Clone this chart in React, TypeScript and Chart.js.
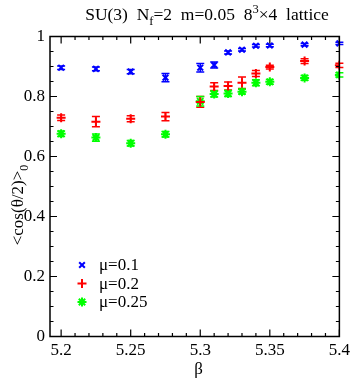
import React, { useEffect, useRef } from "react";
import { Chart, registerables } from "chart.js";
import { drawPoint } from "chart.js/helpers";

Chart.register(...registerables);

const beta = [5.2, 5.225, 5.25, 5.275, 5.3, 5.31, 5.32, 5.33, 5.34, 5.35, 5.375, 5.4];
const mu01 = [0.896, 0.892, 0.883, 0.863, 0.896, 0.905, 0.947, 0.956, 0.969, 0.970, 0.973, 0.977];
const mu01Err = [0.006, 0.006, 0.007, 0.014, 0.014, 0.01, 0.005, 0.004, 0.004, 0.004, 0.004, 0.004];
const mu02 = [0.729, 0.716, 0.726, 0.733, 0.782, 0.833, 0.835, 0.846, 0.877, 0.898, 0.918, 0.904];
const mu02Err = [0.009, 0.017, 0.01, 0.014, 0.018, 0.013, 0.013, 0.019, 0.01, 0.006, 0.008, 0.007];
const mu025 = [0.676, 0.663, 0.644, 0.674, 0.784, 0.808, 0.81, 0.816, 0.846, 0.849, 0.862, 0.872];
const mu025Err = [0.009, 0.012, 0.009, 0.009, 0.016, 0.01, 0.01, 0.008, 0.01, 0.008, 0.008, 0.007];

const seriesLabels = ["\u03bc=0.1", "\u03bc=0.2", "\u03bc=0.25"];
const seriesColors = ["#0000ff", "#ff0000", "#00ff00"];
const seriesStyles = ["crossRot", "cross", "star"];
const seriesValues = [mu01, mu02, mu025];
const seriesErrors = [mu01Err, mu02Err, mu025Err];

const xTicks = [5.2, 5.25, 5.3, 5.35, 5.4];
const yTicks = [0, 0.2, 0.4, 0.6, 0.8, 1];
const X_MIN = 5.192;
const X_MAX = 5.4;

const SERIF = "'Liberation Serif', 'Times New Roman', serif";

const errorBarPlugin = {
  id: "errorBars",
  beforeDatasetsDraw(chart: any) {
    const ctx = chart.ctx;
    const xs = chart.scales.x;
    const ys = chart.scales.y;
    ctx.save();
    chart.data.datasets.forEach((ds: any, i: number) => {
      const errs = seriesErrors[i];
      ctx.strokeStyle = ds.borderColor;
      ctx.lineWidth = 1.5;
      ds.data.forEach((p: any, j: number) => {
        const x = xs.getPixelForValue(p.x);
        const yt = ys.getPixelForValue(p.y + errs[j]);
        const yb = ys.getPixelForValue(p.y - errs[j]);
        const cw = 4;
        ctx.beginPath();
        ctx.moveTo(x, yt);
        ctx.lineTo(x, yb);
        ctx.moveTo(x - cw, yt);
        ctx.lineTo(x + cw, yt);
        ctx.moveTo(x - cw, yb);
        ctx.lineTo(x + cw, yb);
        ctx.stroke();
      });
    });
    ctx.restore();
  },
};

const framePlugin = {
  id: "frame",
  afterDraw(chart: any) {
    const ctx = chart.ctx;
    const { left, right, top, bottom } = chart.chartArea;
    const xs = chart.scales.x;
    const ys = chart.scales.y;
    ctx.save();
    ctx.strokeStyle = "#000";
    ctx.lineWidth = 1.5;
    ctx.strokeRect(left, top, right - left, bottom - top);

    ctx.lineWidth = 1.2;
    ctx.beginPath();
    for (let k = 0; k <= 21; k++) {
      const v = 5.19 + k * 0.01;
      if (v < X_MIN - 1e-9 || v > X_MAX + 1e-9) continue;
      const major = Math.abs(Math.round(v * 20) - v * 20) < 1e-6;
      const len = major ? 7 : 3.5;
      const x = xs.getPixelForValue(v);
      ctx.moveTo(x, bottom);
      ctx.lineTo(x, bottom - len);
      ctx.moveTo(x, top);
      ctx.lineTo(x, top + len);
    }
    for (let k = 0; k <= 20; k++) {
      const v = k * 0.05;
      const major = k % 4 === 0;
      const len = major ? 7 : 3.5;
      const y = ys.getPixelForValue(v);
      ctx.moveTo(left, y);
      ctx.lineTo(left + len, y);
      ctx.moveTo(right, y);
      ctx.lineTo(right - len, y);
    }
    ctx.stroke();

    // Title
    ctx.fillStyle = "#000";
    ctx.textBaseline = "alphabetic";
    const big = `17.5px ${SERIF}`;
    const small = `12.5px ${SERIF}`;
    const parts: [string, string, number][] = [
      ["SU(3)  N", big, 0],
      ["f", small, 5],
      ["=2  m=0.05  8", big, 0],
      ["3", small, -7],
      ["\u00d74  lattice", big, 0],
    ];
    let total = 0;
    parts.forEach(([t, f]) => {
      ctx.font = f;
      total += ctx.measureText(t).width;
    });
    let tx = 207 - total / 2;
    const ty = 20;
    parts.forEach(([t, f, dy]) => {
      ctx.font = f;
      ctx.fillText(t, tx, ty + dy);
      tx += ctx.measureText(t).width;
    });

    // x axis title
    ctx.font = `17px ${SERIF}`;
    ctx.textAlign = "center";
    ctx.fillText("\u03b2", (left + right) / 2 + 4, 374);

    // y axis title
    ctx.save();
    ctx.translate(23, 205);
    ctx.rotate(-Math.PI / 2);
    ctx.textAlign = "left";
    ctx.font = `17px ${SERIF}`;
    const main = "<cos(\u03b8/2)>";
    const mw = ctx.measureText(main).width;
    ctx.font = `12px ${SERIF}`;
    const sw = ctx.measureText("0").width;
    const sx = -(mw + sw) / 2;
    ctx.font = `17px ${SERIF}`;
    ctx.fillText(main, sx, 0);
    ctx.font = `12px ${SERIF}`;
    ctx.fillText("0", sx + mw, 5);
    ctx.restore();

    // Legend
    ctx.textAlign = "left";
    ctx.textBaseline = "middle";
    const ly = [265, 283.5, 302];
    chart.data.datasets.forEach((ds: any, i: number) => {
      ctx.strokeStyle = ds.borderColor;
      ctx.fillStyle = ds.borderColor;
      ctx.lineWidth = ds.pointBorderWidth;
      drawPoint(
        ctx,
        {
          pointStyle: ds.pointStyle,
          radius: ds.pointRadius,
          borderWidth: ds.pointBorderWidth,
          rotation: 0,
        } as any,
        82,
        ly[i]
      );
      ctx.fillStyle = "#000";
      ctx.font = `17px ${SERIF}`;
      ctx.fillText(ds.label, 99, ly[i] + 1);
    });
    ctx.restore();
  },
};

export default function App() {
  const ref = useRef<HTMLCanvasElement | null>(null);
  useEffect(() => {
    if (!ref.current) return;
    const datasets = seriesLabels.map((label, i) => ({
      label,
      data: beta.map((b, j) => ({ x: b, y: seriesValues[i][j] })),
      borderColor: seriesColors[i],
      backgroundColor: seriesColors[i],
      pointStyle: seriesStyles[i],
      pointRadius: i === 0 ? 4 : 4.5,
      pointBorderWidth: 2,
      showLine: false,
    }));
    const chart = new Chart(ref.current, {
      type: "scatter",
      data: { datasets },
      plugins: [errorBarPlugin, framePlugin],
      options: {
        responsive: false,
        animation: false,
        layout: { padding: { left: 0, right: 11, top: 36.5, bottom: 0 } },
        plugins: {
          legend: { display: false },
          title: { display: false },
          tooltip: { enabled: false },
        },
        scales: {
          x: {
            type: "linear",
            min: X_MIN,
            max: X_MAX,
            grid: { display: false, drawTicks: false },
            border: { display: false },
            afterBuildTicks: (s: any) => {
              s.ticks = xTicks.map((v) => ({ value: v }));
            },
            afterFit: (s: any) => {
              s.height = 382 - 336.5;
            },
            ticks: {
              autoSkip: false,
              maxRotation: 0,
              padding: 4,
              color: "#000",
              font: { family: SERIF, size: 17 },
              callback: (v: any) => String(Number(Number(v).toFixed(2))),
            },
          },
          y: {
            type: "linear",
            min: 0,
            max: 1,
            grid: { display: false, drawTicks: false },
            border: { display: false },
            afterBuildTicks: (s: any) => {
              s.ticks = yTicks.map((v) => ({ value: v }));
            },
            afterFit: (s: any) => {
              s.width = 50;
            },
            ticks: {
              autoSkip: false,
              padding: 5,
              color: "#000",
              font: { family: SERIF, size: 17 },
              callback: (v: any) => String(Number(Number(v).toFixed(2))),
            },
          },
        },
      } as any,
    });
    return () => chart.destroy();
  }, []);
  return (
    <div style={{ position: "absolute", left: 0, top: 0, width: 354, height: 382, background: "#fff" }}>
      <canvas ref={ref} width={354} height={382} style={{ display: "block", width: 354, height: 382 }} />
    </div>
  );
}
